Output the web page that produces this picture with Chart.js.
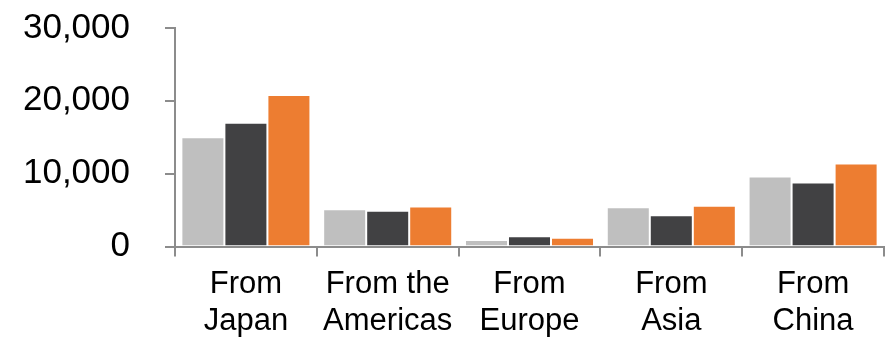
<!DOCTYPE html>
<html>
<head>
<meta charset="utf-8">
<script src="https://cdn.jsdelivr.net/npm/chart.js@4/dist/chart.umd.min.js"></script>
<style>
  html, body { margin: 0; padding: 0; background: #ffffff; }
  #wrap { width: 887px; height: 337px; position: relative; }
</style>
</head>
<body>
<div id="wrap"><canvas id="chart"></canvas></div>
<script>
// Chart data
const categories = [
  ['From', 'Japan'],
  ['From the', 'Americas'],
  ['From', 'Europe'],
  ['From', 'Asia'],
  ['From', 'China']
];
const seriesLight = [15000, 5100, 900, 5400, 9600];
const seriesDark = [17000, 4900, 1400, 4300, 8800];
const seriesOrange = [20800, 5500, 1200, 5600, 11400];
const yTicks = [0, 10000, 20000, 30000];

const axisGrey = '#8c8c8c';
const fontFamily = 'Liberation Sans, Arial, sans-serif';

function makeDataset(label, values, colour) {
  return {
    label: label,
    data: values,
    backgroundColor: colour,
    borderColor: 'rgba(255,255,255,0.6)',
    borderWidth: 1,
    categoryPercentage: 0.91,
    barPercentage: 1
  };
}

new Chart(document.getElementById('chart'), {
  type: 'bar',
  data: {
    labels: categories,
    datasets: [
      makeDataset('Series 1', seriesLight, '#bfbfbf'),
      makeDataset('Series 2', seriesDark, '#414143'),
      makeDataset('Series 3', seriesOrange, '#ed7d31')
    ]
  },
  options: {
    responsive: true,
    maintainAspectRatio: false,
    animation: false,
    layout: { padding: { top: 28, right: 3, left: 0, bottom: 0 } },
    plugins: {
      legend: { display: false },
      tooltip: { enabled: false }
    },
    scales: {
      x: {
        grid: {
          offset: true,
          drawOnChartArea: false,
          drawTicks: true,
          tickLength: 10,
          color: axisGrey,
          lineWidth: 2
        },
        border: { color: axisGrey, width: 2 },
        ticks: {
          color: '#000000',
          font: { family: fontFamily, size: 31, lineHeight: 1.18 },
          padding: 10,
          maxRotation: 0,
          autoSkip: false
        },
        afterFit: function(scale) {
          scale.height = 90.5;
          scale.paddingLeft = 0;
          scale.paddingRight = 0;
        }
      },
      y: {
        min: 0,
        max: 30000,
        afterBuildTicks: function(scale) {
          scale.ticks = yTicks.map(v => ({ value: v }));
        },
        grid: {
          drawOnChartArea: false,
          drawTicks: true,
          tickLength: 10,
          color: axisGrey,
          lineWidth: 2
        },
        border: { color: axisGrey, width: 2 },
        ticks: {
          color: '#000000',
          font: { family: fontFamily, size: 35 },
          padding: 35,
          callback: function(value) { return value.toLocaleString('en-US'); }
        },
        afterFit: function(scale) {
          scale.width = 175;
          scale.paddingTop = 0;
          scale.paddingBottom = 0;
        }
      }
    }
  }
});
</script>
</body>
</html>
